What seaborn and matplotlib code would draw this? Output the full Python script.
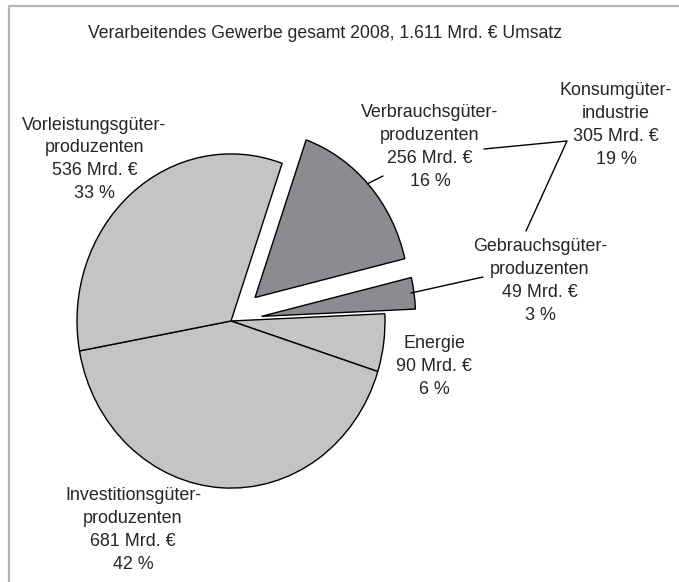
import matplotlib
matplotlib.use("Agg")
import matplotlib.pyplot as plt
import seaborn as sns

# Umsatz 2008 in Mrd. Euro
segments = ["Energie", "Investitionsgüter", "Vorleistungsgüter", "Verbrauchsgüter", "Gebrauchsgüter"]
umsatz = [90, 681, 536, 256, 49]
anteil = [6, 42, 33, 16, 3]
konsum_umsatz = 305
konsum_anteil = 19
gesamt = "1.611"

sns.set_theme(style="white")
plt.rcParams["font.family"] = ["Liberation Sans", "DejaVu Sans"]

light = "#c3c4c6"
dark = "#8a8c90"
colors = [light, light, light, dark, dark]

W, H = 679, 582
SY = 1.085  # pie is a bit taller than wide
R = 154
explode = [0, 0, 0, 0.21 * R, 0.2 * R]  # pie explode is in data units

fig = plt.figure(figsize=(W / 100, H / 100), dpi=100)
ax = fig.add_axes([0, 0, 1, 1])
ax.pie(umsatz, colors=colors, explode=explode, startangle=2.5, counterclock=False,
       center=(231, (H - 321) / SY), radius=R,
       wedgeprops=dict(edgecolor="black", linewidth=1.0))
ax.set_aspect("auto")
ax.set_xlim(0, W)
ax.set_ylim(0, H / SY)
ax.axis("off")

# overlay in pixel coords for texts and leader lines
ann = fig.add_axes([0, 0, 1, 1])
ann.set_xlim(0, W)
ann.set_ylim(H, 0)
ann.axis("off")
ann.patch.set_alpha(0)

# frame (top + left visible)
ann.plot([8.5, 8.5, W], [H, 5.5, 5.5], color="#b3b3b3", lw=1.6, solid_capstyle="butt")

fs = 12.9
ls = 1.45
ann.text(325, 25, f"Verarbeitendes Gewerbe gesamt 2008, {gesamt} Mrd. € Umsatz",
         ha="center", va="top", fontsize=12.7)

def label(x, y, txt):
    ann.text(x, y, txt, ha="center", va="top", fontsize=fs, linespacing=ls, multialignment="center")

label(94.5, 116.5, f"Vorleistungsgüter-\nproduzenten\n{umsatz[2]} Mrd. €\n{anteil[2]} %")
label(430, 104, f"Verbrauchsgüter-\nproduzenten\n{umsatz[3]} Mrd. €\n{anteil[3]} %")
label(616, 82, f"Konsumgüter-\nindustrie\n{konsum_umsatz} Mrd. €\n{konsum_anteil} %")
label(540, 238, f"Gebrauchsgüter-\nproduzenten\n{umsatz[4]} Mrd. €\n{anteil[4]} %")
label(434, 335, f"Energie\n{umsatz[0]} Mrd. €\n{anteil[0]} %")
label(133, 487.5, f"Investitionsgüter-\nproduzenten\n{umsatz[1]} Mrd. €\n{anteil[1]} %")

# leader lines
ann.plot([367, 383], [184, 176], color="black", lw=1)
ann.plot([411, 483], [293, 277], color="black", lw=1)
ann.plot([484, 567, 526], [149, 141, 231], color="black", lw=1)

fig.savefig("out.png", dpi=100)
